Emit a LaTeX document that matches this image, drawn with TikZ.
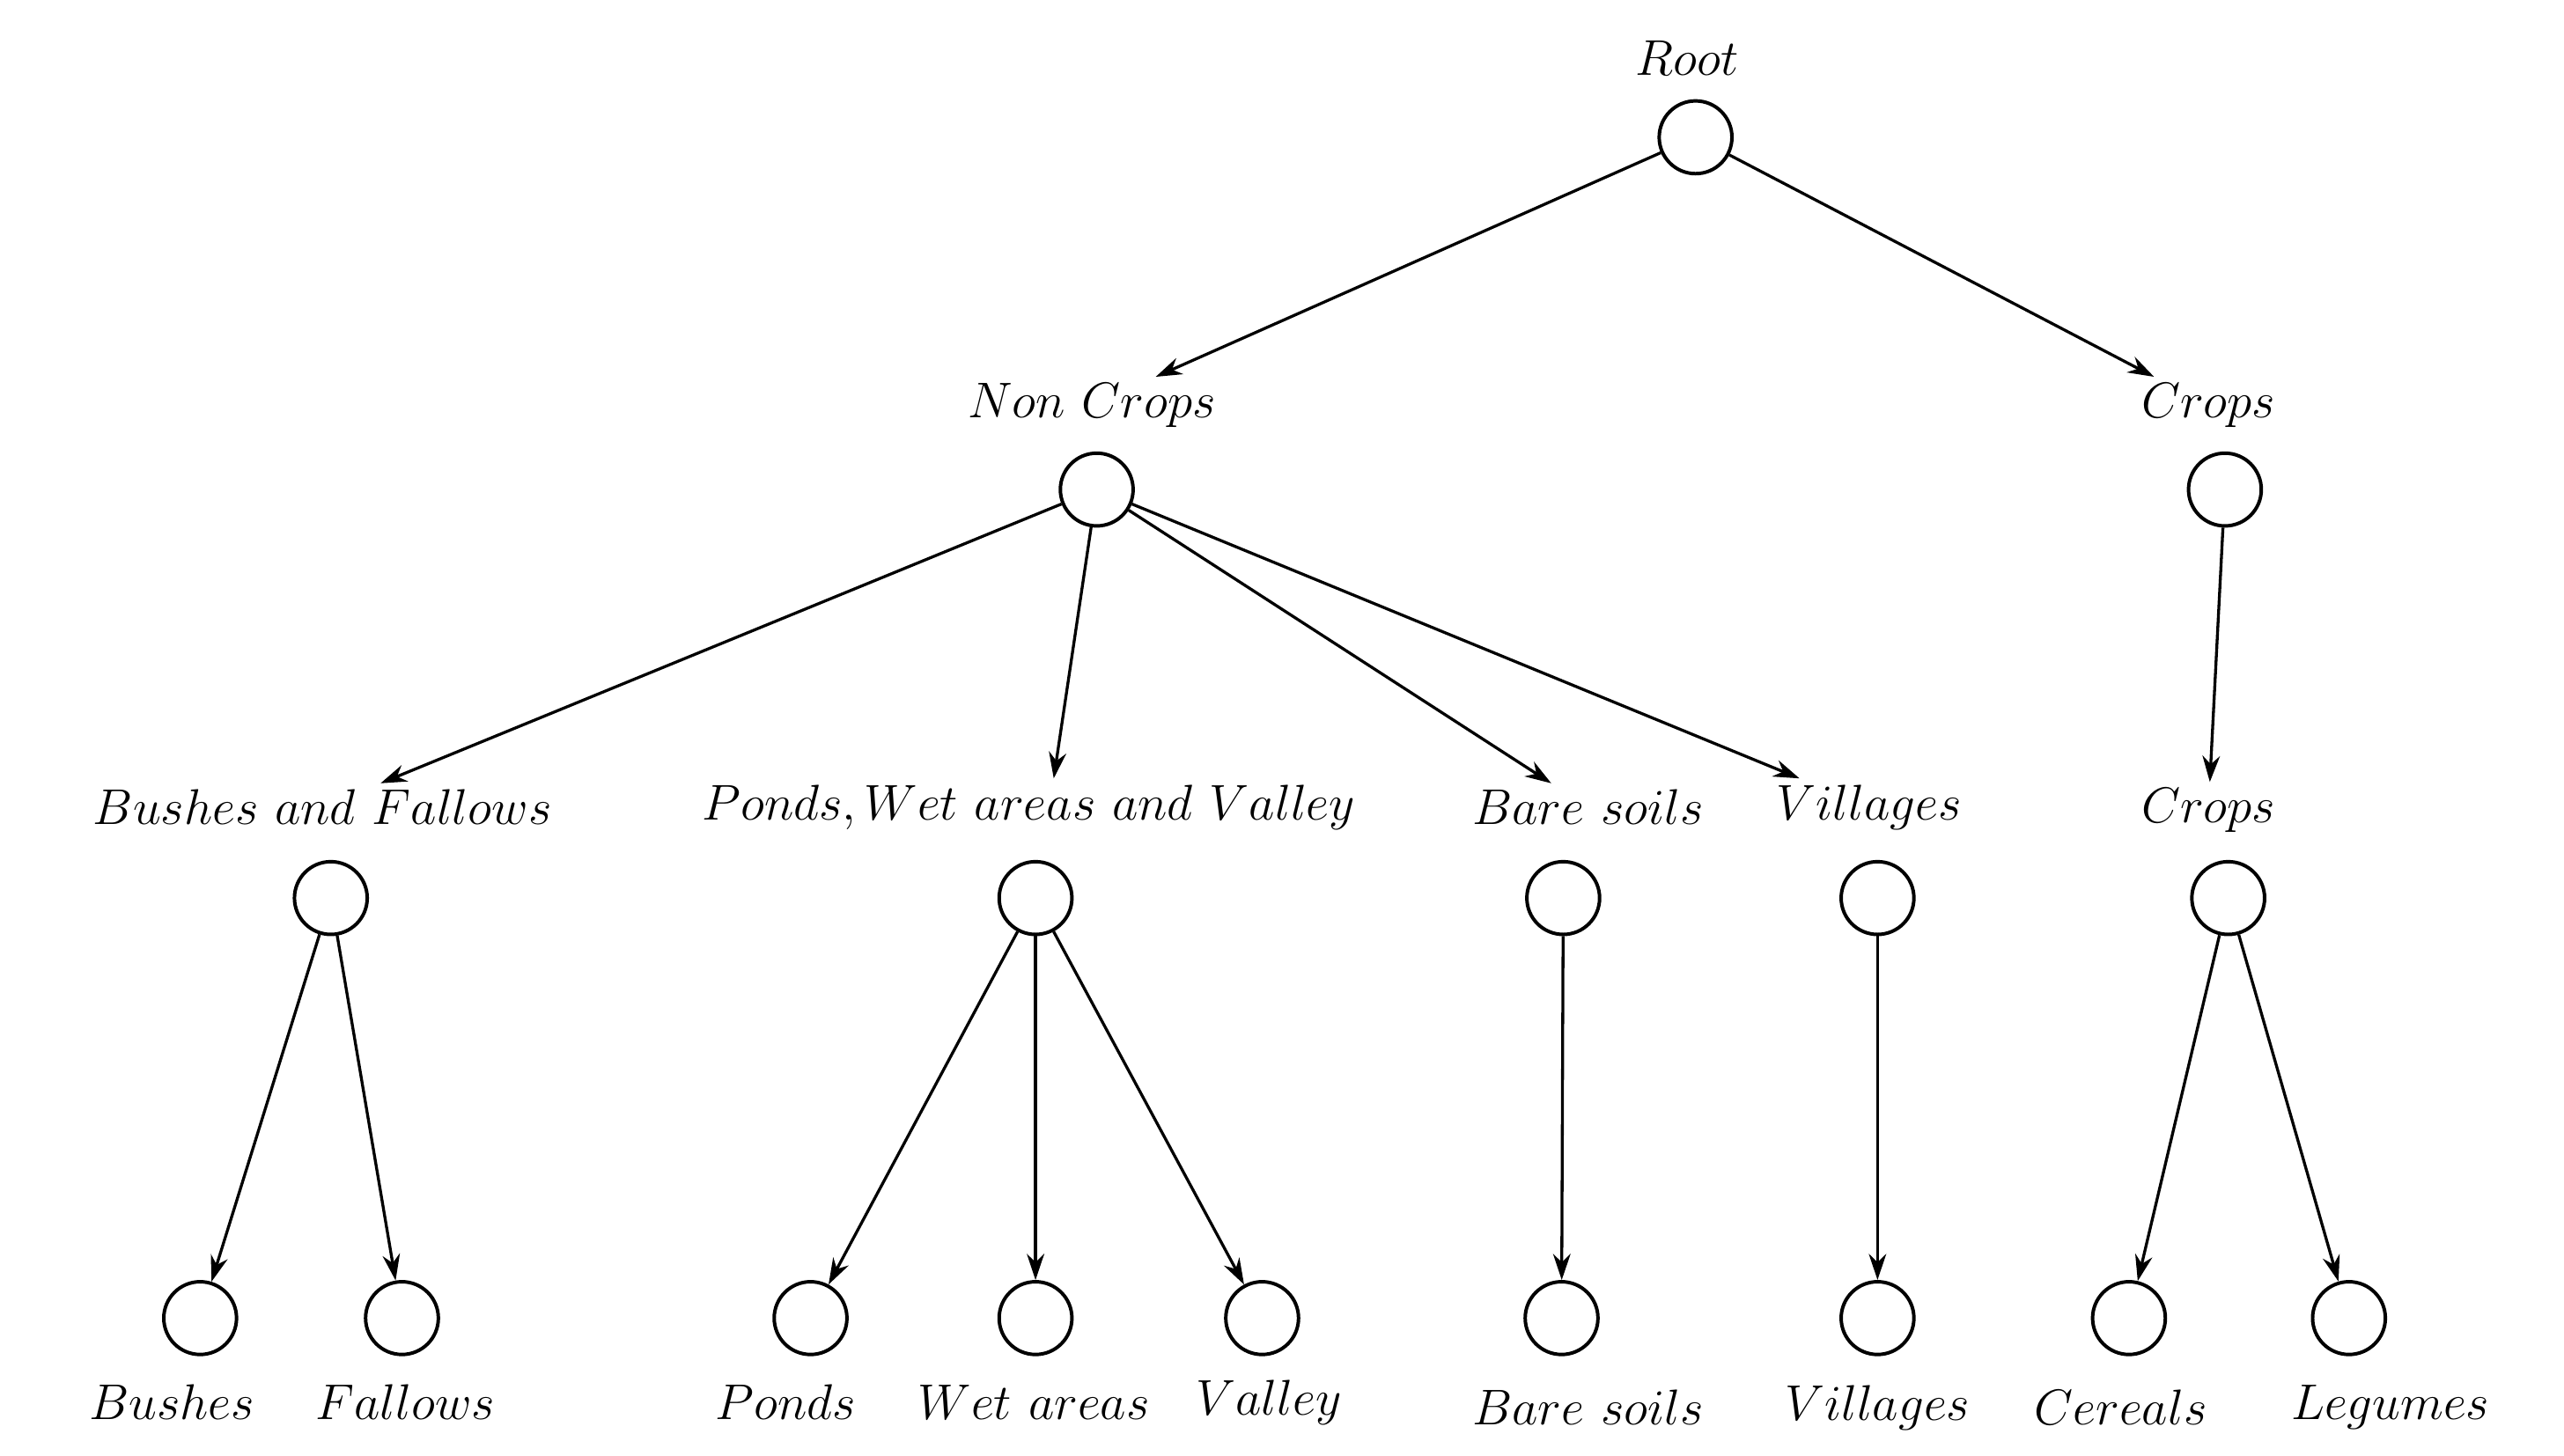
\documentclass[tikz,border=0pt]{standalone}
\usetikzlibrary{arrows.meta}
\begin{document}
\begin{tikzpicture}[x=0.02cm,y=-0.02cm,
  c/.style={circle,draw,line width=1.2pt,minimum size=0.88cm,inner sep=0pt},
  l/.style={inner sep=2pt,font=\fontsize{19}{22}\selectfont},
  e/.style={line width=1pt,-{Stealth[length=9pt,width=6pt]}}]
\useasboundingbox (0,0) rectangle (1550,880);
\node[c] (r) at (1025,83) {}; \node[l] (rl) at (1020,35) {$Root$};
\node[c] (nc) at (663,296) {}; \node[l] (ncl) at (660,245) {$Non\ Crops$};
\node[c] (cr) at (1345,296) {}; \node[l] (crl) at (1335,245) {$Crops$};
\node[c] (bf) at (200,543) {}; \node[l] (bfl) at (195,488) {$Bushes\ and\ Fallows$};
\node[c] (pw) at (626,543) {}; \node[l] (pwl) at (622,488) {$Ponds, Wet\ areas\ and\ Valley$};
\node[c] (bs) at (945,543) {}; \node[l] (bsl) at (960,488) {$Bare\ soils$};
\node[c] (vi) at (1135,543) {}; \node[l] (vil) at (1130,488) {$Villages$};
\node[c] (c2) at (1347,543) {}; \node[l] (c2l) at (1335,490) {$Crops$};
\node[c] (b) at (121,797) {}; \node[l] (bl) at (104,848) {$Bushes$};
\node[c] (f) at (243,797) {}; \node[l] (fl) at (245,848) {$Fallows$};
\node[c] (p) at (490,797) {}; \node[l] (pl) at (475,848) {$Ponds$};
\node[c] (w) at (626,797) {}; \node[l] (wl) at (625,848) {$Wet\ areas$};
\node[c] (v) at (763,797) {}; \node[l] (vl) at (767,848) {$Valley$};
\node[c] (s) at (944,797) {}; \node[l] (sl) at (960,851) {$Bare\ soils$};
\node[c] (vv) at (1135,797) {}; \node[l] (vvl) at (1135,851) {$Villages$};
\node[c] (ce) at (1287,797) {}; \node[l] (cel) at (1282,851) {$Cereals$};
\node[c] (le) at (1420,797) {}; \node[l] (lel) at (1445,851) {$Legumes$};
\draw[e] (r) -- (ncl); \draw[e] (r) -- (crl);
\draw[e] (nc) -- (bfl); \draw[e] (nc) -- (pwl.north -| 637,0);
\draw[e] (nc) -- (bsl); \draw[e] (nc) -- (vil);
\draw[e] (cr) -- (c2l);
\draw[e] (bf) -- (b); \draw[e] (bf) -- (f);
\draw[e] (pw) -- (p); \draw[e] (pw) -- (w); \draw[e] (pw) -- (v);
\draw[e] (bs) -- (s); \draw[e] (vi) -- (vv);
\draw[e] (c2) -- (ce); \draw[e] (c2) -- (le);
\end{tikzpicture}
\end{document}
